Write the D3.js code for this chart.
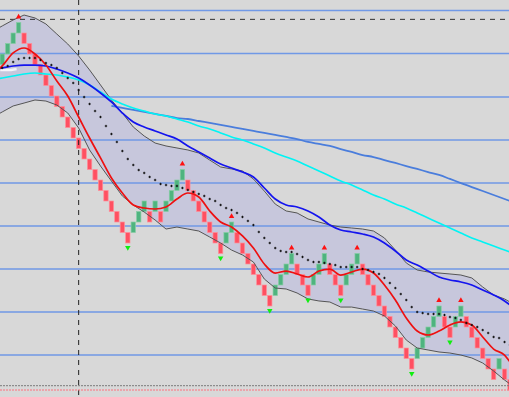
<!DOCTYPE html>
<html>
<head>
<meta charset="utf-8">
<script src="https://cdn.jsdelivr.net/npm/d3@7"></script>
<style>
  html, body { margin: 0; padding: 0; background: #d8d8d8; overflow: hidden; }
  svg { display: block; }
</style>
</head>
<body>
<div id="chart"></div>
<script>
// DATA (price in brick units, 1 = one renko brick)
// bottom level of every brick, left to right
const brickLow = [32,33,34,35,
  34,33,32,31,30,29,28,27,26,25,24,23,22,21,20,19,18,17,16,15,
  16,17,18, 17, 18, 17, 18,19,20,21,
  20,19,18,17,16,15,14, 15,16,
  15,14,13,12,11,10,9, 10,11,12,13,
  12,11,10, 11,12,13, 12,11,10, 11,12,13,
  12,11,10,9,8,7,6,5,4,3, 4,5,6,7,8,
  7,6, 7,8, 7,6,5,4,3,2, 3, 2,1];
// 1 = up (green), -1 = down (red)
const brickDir = [1,1,1,1,
  -1,-1,-1,-1,-1,-1,-1,-1,-1,-1,-1,-1,-1,-1,-1,-1,-1,-1,-1,-1,
  1,1,1, -1, 1, -1, 1,1,1,1,
  -1,-1,-1,-1,-1,-1,-1, 1,1,
  -1,-1,-1,-1,-1,-1,-1, 1,1,1,1,
  -1,-1,-1, 1,1,1, -1,-1,-1, 1,1,1,
  -1,-1,-1,-1,-1,-1,-1,-1,-1,-1, 1,1,1,1,1,
  -1,-1, 1,1, -1,-1,-1,-1,-1,-1, 1, -1,-1];

const peakBricks = [3, 33, 42, 53, 59, 65, 80, 84];
const troughBricks = [23, 40, 49, 56, 62, 75, 82];

// indicator lines, sampled at these brick indexes
const sampleIdx = [-1,0,2,4,6,8,10,12,14,16,18,20,22,24,26,28,30,32,34,36,38,40,42,44,46,
  48,50,52,54,56,58,60,62,64,66,68,70,72,74,76,78,80,82,84,86,88,90,92,93];

const redMA = [31.38, 31.86,33.10,33.57,33.00,31.95,30.43,29.00,27.00,25.00,23.10,
  21.19,19.76,18.62,18.33,18.24,18.43,19.19,19.76,19.38,18.05,
  17.00,16.52,15.67,14.52,13.00,12.14,12.33,12.05,11.76,12.33,
  12.52,11.95,12.24,12.52,12.14,11.00,9.57,7.86,6.62,6.24,
  6.62,7.19,7.48,7.19,6.05,4.90,4.33,3.67];

const blueMA = [31.57, 31.67,31.86,31.95,31.95,31.86,31.57,31.19,30.71,30.05,29.29,
  28.43,27.38,26.52,26.05,25.67,25.29,24.90,24.24,23.67,23.10,
  22.52,22.14,21.76,21.29,20.24,19.19,18.62,18.43,18.05,17.48,
  16.71,16.24,16.05,15.86,15.57,15.00,14.24,13.38,12.90,12.33,
  11.76,11.48,11.29,11.00,10.52,10.05,9.48,9.10];

const cyanMA = [30.62, 30.71,30.90,31.10,31.19,31.10,31.00,30.81,30.52,30.05,29.38,
  28.71,28.24,27.86,27.57,27.29,27.10,26.81,26.52,26.14,25.86,
  25.48,25.10,24.81,24.43,24.05,23.57,23.19,22.81,22.33,21.86,
  21.38,20.90,20.52,20.05,19.57,19.19,18.71,18.33,17.86,17.38,
  16.90,16.43,15.95,15.48,15.10,14.71,14.33,14.14];

const steelMA = [null, null,null,null,null,null,null,null,null,null,null,
  28.05,27.86,27.67,27.48,27.29,27.10,26.90,26.81,26.62,26.43,
  26.24,26.05,25.86,25.67,25.48,25.29,25.10,24.90,24.62,24.43,
  24.24,23.95,23.67,23.38,23.19,22.90,22.62,22.33,22.05,21.76,
  21.48,21.10,20.71,20.33,19.95,19.57,19.19,19.00];

const bandUpper = [35.38, 35.67,36.24,36.71,36.43,35.86,34.90,33.95,32.81,31.48,30.05,
  28.62,27.38,26.05,25.19,24.52,24.24,24.05,23.86,23.57,22.90,
  22.24,22.05,21.86,21.10,19.95,18.71,18.05,17.86,17.29,17.00,
  16.71,16.52,16.43,16.33,16.14,15.48,14.33,13.10,12.43,12.24,
  12.14,12.05,11.95,11.67,10.81,10.05,9.67,9.38];

const bandLower = [27.19, 27.48,28.05,28.33,28.62,28.52,28.14,27.38,25.95,23.86,22.33,
  20.90,19.48,18.62,17.95,17.19,16.33,16.52,16.33,16.14,15.57,
  15.00,14.33,13.86,13.19,11.57,10.71,10.62,10.24,9.67,9.48,
  9.38,8.90,8.90,8.71,8.52,8.05,7.10,5.76,5.00,4.81,
  4.62,4.52,4.33,4.05,3.57,2.81,1.95,1.57];

// middle band, one dot per brick
const bandMid = [31.67,31.86,32.24,32.52,32.62,32.62,32.62,32.43,32.14,31.95,
  31.67,31.19,30.71,30.24,29.57,28.90,28.24,27.57,27.00,26.14,
  25.38,24.62,23.76,23.00,22.43,21.95,21.67,21.29,21.00,20.62,
  20.52,20.43,20.43,20.24,20.05,19.86,19.67,19.48,19.19,19.00,
  18.62,18.33,18.14,17.86,17.48,17.10,16.71,16.05,15.48,15.00,
  14.52,14.24,14.14,14.14,13.95,13.67,13.38,13.19,13.19,13.10,
  13.00,12.90,12.71,12.71,12.71,12.71,12.52,12.43,12.24,12.05,
  11.67,11.19,10.71,10.14,9.57,8.90,8.43,8.33,8.24,8.24,
  8.24,8.14,7.95,7.86,7.67,7.38,7.19,7.00,6.71,6.43,
  6.05,5.95,5.57,5.29];

// short white line at the left edge (bricks 0..3)
const whiteLine = [31.48, 31.48, 31.48, 31.57];

// horizontal grid levels and reference lines
const gridLevels = [37.14, 33.05, 28.90, 24.81, 20.71, 16.62, 12.52, 8.43, 4.33];
const dashedLevel = 36.30;
const dashedBrick = 14;
const grayDotLevel = 1.41;
const redDotLevel = 1.0;

// CHART SETUP
const width = 509, height = 397;

const svg = d3.select("#chart").append("svg")
    .attr("width", width)
    .attr("height", height);

const x = d3.scaleBand()
    .domain(d3.range(brickLow.length))
    .range([-0.5, -0.5 + 5.46 * brickLow.length])
    .paddingInner(0.2)
    .paddingOuter(0.1);

const y = d3.scaleLinear().domain([0, 38]).range([400.5, 1.5]);

// center of a brick index (works for index -1 too)
const cx = i => x(0) + i * x.step() + x.bandwidth() / 2;

svg.append("rect").attr("width", width).attr("height", height).attr("fill", "#d8d8d8");

// Bollinger band fill
const bandRows = sampleIdx.map((idx, k) => ({idx, hi: bandUpper[k], lo: bandLower[k]}));
svg.append("path")
    .datum(bandRows)
    .attr("fill", "#c7c7dc")
    .attr("d", d3.area().x(d => cx(d.idx)).y0(d => y(d.lo)).y1(d => y(d.hi)));

// grid
svg.append("g").selectAll("line")
    .data(gridLevels)
    .enter().append("line")
    .attr("x1", 0).attr("x2", width)
    .attr("y1", d => y(d)).attr("y2", d => y(d))
    .attr("stroke", "#7099e6")
    .attr("stroke-width", 1.4);

// bricks
svg.append("g").selectAll("rect")
    .data(brickLow)
    .enter().append("rect")
    .attr("x", (d, i) => x(i))
    .attr("width", x.bandwidth())
    .attr("y", d => y(d + 1))
    .attr("height", d => y(d) - y(d + 1))
    .attr("fill", (d, i) => brickDir[i] > 0 ? "#4fb47f" : "#ff5061")
    .attr("stroke", (d, i) => brickDir[i] > 0 ? "#86cda4" : "#ff8f9a")
    .attr("stroke-width", 0.7);

// reference lines
svg.append("line")
    .attr("x1", 0).attr("x2", width)
    .attr("y1", y(dashedLevel)).attr("y2", y(dashedLevel))
    .attr("stroke", "#303030").attr("stroke-dasharray", "5,5");
svg.append("line")
    .attr("x1", cx(dashedBrick)).attr("x2", cx(dashedBrick))
    .attr("y1", 0).attr("y2", height)
    .attr("stroke", "#202020").attr("stroke-dasharray", "5,5");
svg.append("line")
    .attr("x1", 0).attr("x2", width)
    .attr("y1", y(grayDotLevel)).attr("y2", y(grayDotLevel))
    .attr("stroke", "#7a7a7a").attr("stroke-dasharray", "2,1");
svg.append("line")
    .attr("x1", 0).attr("x2", width)
    .attr("y1", y(redDotLevel)).attr("y2", y(redDotLevel))
    .attr("stroke", "#ff6f7c").attr("stroke-dasharray", "2,1");

// indicator lines
const drawLine = (values, color, w, curve) => {
    const rows = sampleIdx.map((idx, k) => ({idx, v: values[k]}));
    svg.append("path")
        .datum(rows)
        .attr("fill", "none")
        .attr("stroke", color)
        .attr("stroke-width", w)
        .attr("d", d3.line()
            .defined(d => d.v != null)
            .x(d => cx(d.idx))
            .y(d => y(d.v))
            .curve(curve));
};

drawLine(bandUpper, "#555555", 1, d3.curveLinear);
drawLine(bandLower, "#555555", 1, d3.curveLinear);

svg.append("path")
    .datum(whiteLine)
    .attr("fill", "none")
    .attr("stroke", "#f4f4fa")
    .attr("stroke-width", 2.5)
    .attr("d", d3.line().x((d, i) => cx(i) - 2).y(d => y(d)));

drawLine(steelMA, "#4a7ddc", 1.8, d3.curveMonotoneX);
drawLine(cyanMA, "#00f4f4", 1.6, d3.curveMonotoneX);
drawLine(blueMA, "#1414ee", 1.7, d3.curveMonotoneX);
drawLine(redMA, "#ee1010", 1.7, d3.curveMonotoneX);

// middle band crosses
svg.append("g").selectAll("path")
    .data(bandMid)
    .enter().append("path")
    .attr("transform", (d, i) => `translate(${cx(i)},${y(d)})`)
    .attr("d", "M-1.2,0H1.2M0,-1.2V1.2")
    .attr("stroke", "#111")
    .attr("stroke-width", 1);

// turning point markers
const tri = d3.symbol().type(d3.symbolTriangle).size(13);
svg.append("g").selectAll("path")
    .data(peakBricks)
    .enter().append("path")
    .attr("d", tri)
    .attr("transform", i => `translate(${cx(i)},${y(brickLow[i] + 1) - 5.5})`)
    .attr("fill", "#ff1010");
svg.append("g").selectAll("path")
    .data(troughBricks)
    .enter().append("path")
    .attr("d", tri)
    .attr("transform", i => `translate(${cx(i)},${y(brickLow[i]) + 4.5}) rotate(180)`)
    .attr("fill", "#10ee10");
</script>
</body>
</html>
